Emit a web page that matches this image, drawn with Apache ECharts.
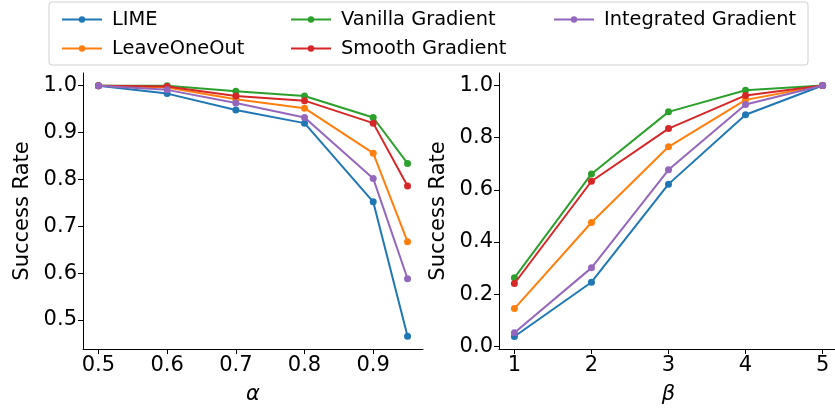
<!DOCTYPE html>
<html>
<head>
<meta charset="utf-8">
<script src="https://cdn.jsdelivr.net/npm/echarts@6/dist/echarts.min.js"></script>
<style>
  html, body { margin: 0; padding: 0; background: #fff; }
  #chart { width: 835px; height: 410px; }
</style>
</head>
<body>
<div id="chart"></div>
<script>
  // data
  const methods = ['LIME', 'LeaveOneOut', 'Vanilla Gradient', 'Smooth Gradient', 'Integrated Gradient']
  const colors = ['#1f77b4', '#ff7f0e', '#2ca02c', '#d62728', '#9467bd']

  const alphas = [0.5, 0.6, 0.7, 0.8, 0.9, 0.95]
  const alphaLime = [1.0, 0.983, 0.948, 0.920, 0.752, 0.465]
  const alphaLoo = [1.0, 0.996, 0.971, 0.952, 0.856, 0.667]
  const alphaVanilla = [1.0, 1.0, 0.988, 0.978, 0.932, 0.834]
  const alphaSmooth = [1.0, 0.998, 0.978, 0.968, 0.920, 0.786]
  const alphaIntegrated = [1.0, 0.991, 0.963, 0.932, 0.802, 0.588]

  const betas = [1, 2, 3, 4, 5]
  const betaLime = [0.038, 0.246, 0.622, 0.888, 1.0]
  const betaLoo = [0.145, 0.475, 0.765, 0.945, 1.0]
  const betaVanilla = [0.263, 0.661, 0.899, 0.982, 1.0]
  const betaSmooth = [0.241, 0.633, 0.835, 0.962, 1.0]
  const betaIntegrated = [0.052, 0.301, 0.677, 0.927, 1.0]

  const alphaTicks = [0.5, 0.6, 0.7, 0.8, 0.9]
  const alphaYTicks = [0.5, 0.6, 0.7, 0.8, 0.9, 1.0]
  const betaTicks = [1, 2, 3, 4, 5]
  const betaYTicks = [0, 0.2, 0.4, 0.6, 0.8, 1.0]

  const alphaSeries = [alphaLime, alphaLoo, alphaVanilla, alphaSmooth, alphaIntegrated]
  const betaSeries = [betaLime, betaLoo, betaVanilla, betaSmooth, betaIntegrated]

  const font = 'DejaVu Sans'

  function axisBase(ticks, min, max, fmt) {
    return {
      type: 'value',
      min: min,
      max: max,
      splitLine: { show: false },
      axisLine: { show: true, onZero: false, lineStyle: { color: '#000', width: 1 } },
      axisTick: { show: true, length: 5, customValues: ticks, lineStyle: { color: '#000' } },
      axisLabel: {
        customValues: ticks, color: '#000', fontFamily: font, fontSize: 21, margin: 6,
        formatter: fmt
      },
      nameTextStyle: { color: '#000', fontFamily: font, fontSize: 21 }
    }
  }

  function makeSeries(xs, list, idx) {
    return list.map((ys, i) => ({
      name: methods[i],
      type: 'line',
      xAxisIndex: idx,
      yAxisIndex: idx,
      data: xs.map((x, j) => [x, ys[j]]),
      symbol: 'circle',
      symbolSize: 7,
      lineStyle: { width: 2, color: colors[i] },
      itemStyle: { color: colors[i] },
      animation: false,
      z: 2 + i
    }))
  }

  const legendBase = {
    orient: 'vertical',
    top: 5,
    itemWidth: 40,
    itemHeight: 8,
    itemGap: 10,
    textStyle: { color: '#000', fontFamily: font, fontSize: 19.4, lineHeight: 14, padding: [0, 0, 0, 5] }
  }

  const chart = echarts.init(document.getElementById('chart'))
  chart.setOption({
    backgroundColor: '#fff',
    color: colors,
    graphic: [{
      type: 'rect',
      shape: { x: 49, y: 2, width: 759, height: 63, r: 3 },
      style: { fill: '#fff', stroke: '#d0d0d0', lineWidth: 1 },
      z: -1
    }],
    legend: [
      Object.assign({}, legendBase, { left: 56, data: ['LIME', 'LeaveOneOut'] }),
      Object.assign({}, legendBase, { left: 285, data: ['Vanilla Gradient', 'Smooth Gradient'] }),
      Object.assign({}, legendBase, { left: 548, data: ['Integrated Gradient'] })
    ],
    grid: [
      { left: 83, right: 412, top: 73, bottom: 61, outerBoundsMode: 'none' },
      { left: 499, right: -3, top: 73, bottom: 61, outerBoundsMode: 'none' }
    ],
    xAxis: [
      Object.assign(axisBase(alphaTicks, 0.4775, 0.9725, v => v.toFixed(1)), {
        gridIndex: 0, name: 'α', nameLocation: 'middle', nameGap: 35,
        nameTextStyle: { color: '#000', fontFamily: font, fontSize: 21, fontStyle: 'italic' }
      }),
      Object.assign(axisBase(betaTicks, 0.8, 5.2, v => String(v)), {
        gridIndex: 1, name: 'β', nameLocation: 'middle', nameGap: 35,
        nameTextStyle: { color: '#000', fontFamily: font, fontSize: 21, fontStyle: 'italic' }
      })
    ],
    yAxis: [
      Object.assign(axisBase(alphaYTicks, 0.438, 1.027, v => v.toFixed(1)), {
        gridIndex: 0, name: 'Success Rate', nameLocation: 'middle', nameGap: 50
      }),
      Object.assign(axisBase(betaYTicks, -0.010, 1.048, v => v.toFixed(1)), {
        gridIndex: 1, name: 'Success Rate', nameLocation: 'middle', nameGap: 50
      })
    ],
    series: makeSeries(alphas, alphaSeries, 0).concat(makeSeries(betas, betaSeries, 1))
  })
</script>
</body>
</html>
